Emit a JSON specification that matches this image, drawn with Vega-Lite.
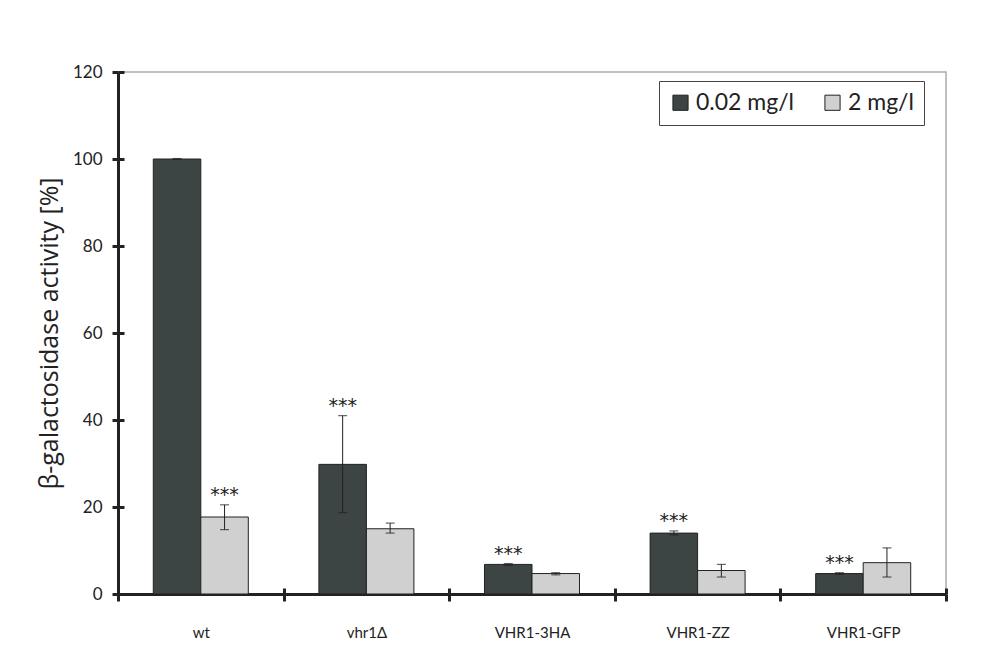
{
  "$schema": "https://vega.github.io/schema/vega-lite/v6.json",
  "width": 828,
  "height": 522,
  "autosize": "none",
  "padding": {"left": 118, "top": 72, "right": 54, "bottom": 72},
  "background": "white",
  "config": {
    "font": "Lato",
    "view": {"stroke": "#aaaaaa", "strokeWidth": 1.5},
    "axis": {"labelFont": "Lato", "titleFont": "Lato", "labelColor": "#222", "titleColor": "#222", "titleFontWeight": "normal", "grid": false}
  },
  "data": {
    "values": [
      {"strain": "wt", "conc": "0.02 mg/l", "value": 100, "lo": 99.9, "hi": 100.1, "sig": ""},
      {"strain": "wt", "conc": "2 mg/l", "value": 17.7, "lo": 14.8, "hi": 20.5, "sig": "***"},
      {"strain": "vhr1Δ", "conc": "0.02 mg/l", "value": 29.8, "lo": 18.7, "hi": 41.0, "sig": "***"},
      {"strain": "vhr1Δ", "conc": "2 mg/l", "value": 15.0, "lo": 14.0, "hi": 16.3, "sig": ""},
      {"strain": "VHR1-3HA", "conc": "0.02 mg/l", "value": 6.8, "lo": 6.6, "hi": 7.0, "sig": "***"},
      {"strain": "VHR1-3HA", "conc": "2 mg/l", "value": 4.7, "lo": 4.4, "hi": 4.9, "sig": ""},
      {"strain": "VHR1-ZZ", "conc": "0.02 mg/l", "value": 14.0, "lo": 13.6, "hi": 14.5, "sig": "***"},
      {"strain": "VHR1-ZZ", "conc": "2 mg/l", "value": 5.4, "lo": 3.9, "hi": 6.8, "sig": ""},
      {"strain": "VHR1-GFP", "conc": "0.02 mg/l", "value": 4.7, "lo": 4.5, "hi": 4.9, "sig": "***"},
      {"strain": "VHR1-GFP", "conc": "2 mg/l", "value": 7.2, "lo": 3.9, "hi": 10.6, "sig": ""}
    ]
  },
  "encoding": {
    "x": {
      "field": "strain", "type": "nominal",
      "sort": ["wt", "vhr1Δ", "VHR1-3HA", "VHR1-ZZ", "VHR1-GFP"],
      "scale": {"paddingInner": 0, "paddingOuter": 0},
      "axis": null
    },
    "xOffset": {
      "field": "conc", "type": "nominal",
      "scale": {"paddingInner": 0, "paddingOuter": 0.743}
    }
  },
  "resolve": {"axis": {"x": "independent", "y": "independent"}},
  "layer": [
    {
      "mark": {"type": "bar", "stroke": "#222", "strokeWidth": 1},
      "encoding": {
        "x": {
          "field": "strain", "type": "nominal",
          "sort": ["wt", "vhr1Δ", "VHR1-3HA", "VHR1-ZZ", "VHR1-GFP"],
          "axis": {"orient": "bottom", "title": null, "labelAngle": 0, "labelFontSize": 15, "labelPadding": 24, "tickBand": "extent", "domainColor": "#222", "domainWidth": 3, "tickColor": "#222", "tickWidth": 3, "tickSize": 7}
        },
        "y": {
          "field": "value", "type": "quantitative",
          "scale": {"domain": [0, 120], "nice": false},
          "axis": {"orient": "left", "title": "β-galactosidase activity [%]", "titleFont": "Open Sans", "titleFontSize": 25, "titlePadding": 10, "values": [0, 20, 40, 60, 80, 100, 120], "labelFontSize": 17, "labelPadding": 10, "domainColor": "#222", "domainWidth": 3, "tickColor": "#222", "tickWidth": 3, "tickSize": 6}
        },
        "color": {
          "field": "conc", "type": "nominal",
          "scale": {"domain": ["0.02 mg/l", "2 mg/l"], "range": ["#3c4543", "#d0d0d0"]},
          "legend": {
            "title": null, "orient": "none", "legendX": 541, "legendY": 9,
            "direction": "horizontal", "strokeColor": "#444", "fillColor": "white",
            "padding": 10, "symbolType": "square", "symbolSize": 230,
            "symbolStrokeColor": "#222", "symbolStrokeWidth": 1, "symbolOpacity": 1,
            "labelFontSize": 23, "labelColor": "#222", "columnPadding": 26, "labelOffset": 4
          }
        }
      }
    },
    {
      "mark": {"type": "rule", "color": "#222", "strokeWidth": 1},
      "encoding": {
        "x": {
          "field": "strain", "type": "nominal",
          "sort": ["wt", "vhr1Δ", "VHR1-3HA", "VHR1-ZZ", "VHR1-GFP"],
          "axis": {"orient": "bottom", "title": null, "labels": false, "domain": false, "tickBand": "extent", "tickColor": "#222", "tickWidth": 3, "tickSize": -6}
        },
        "y": {
          "field": "lo", "type": "quantitative",
          "axis": {"orient": "left", "title": null, "labels": false, "domain": false, "values": [0, 20, 40, 60, 80, 100, 120], "tickColor": "#222", "tickWidth": 3, "tickSize": -6}
        },
        "y2": {"field": "hi"}
      }
    },
    {
      "mark": {"type": "tick", "color": "#222", "thickness": 1.2, "size": 9},
      "encoding": {"y": {"field": "lo", "type": "quantitative", "axis": null}}
    },
    {
      "mark": {"type": "tick", "color": "#222", "thickness": 1.2, "size": 9},
      "encoding": {"y": {"field": "hi", "type": "quantitative", "axis": null}}
    },
    {
      "mark": {"type": "text", "font": "DejaVu Sans", "fontSize": 19, "dy": -10, "baseline": "middle", "color": "#222"},
      "encoding": {
        "y": {"field": "hi", "type": "quantitative", "axis": null},
        "text": {"field": "sig"}
      }
    }
  ]
}
